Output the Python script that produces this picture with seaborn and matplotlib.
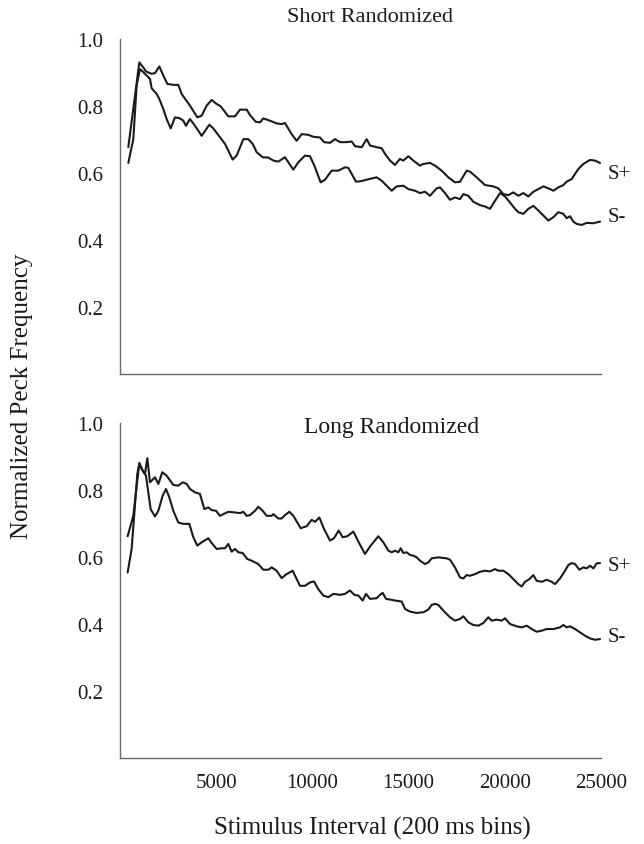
import matplotlib
matplotlib.use("Agg")
import matplotlib.pyplot as plt
import seaborn as sns
import pandas as pd

# ---------------- data ----------------
short_splus_x = [433, 1005, 1213, 1351, 1646, 1819, 2045, 2252, 2460, 2772, 3032, 3205, 3639, 4020,
                 4245, 4505, 4765, 5025, 5233, 5632, 5978, 6238, 6585, 6757, 7051, 7278, 7451, 7797,
                 8144, 8403, 8576, 8923, 9183, 9443, 9790, 10050, 10396, 10604, 10916, 11175, 11436,
                 11783, 12043, 12216, 12563, 12822,
                 12995, 13341, 13601, 13775, 14035, 14294, 14554, 14727, 14988, 15247, 15594, 15767,
                 16113, 16373, 16720, 17067, 17413, 17673, 18020, 18193, 18539, 18973, 19406, 19666,
                 19926, 20186, 20445, 20705, 20965, 21225, 21485, 21745, 22005, 22351, 22524, 22784,
                 23044, 23217, 23477, 23651, 23824, 24084, 24431, 24690, 24950]
short_splus_y = [0.677, 0.930, 0.915, 0.903, 0.896, 0.898, 0.918, 0.891, 0.866, 0.863, 0.863, 0.836,
                 0.801, 0.766, 0.771, 0.801, 0.818, 0.806, 0.799, 0.769, 0.769, 0.789, 0.789, 0.773,
                 0.753, 0.751, 0.763, 0.756, 0.748, 0.746, 0.749, 0.716, 0.696, 0.716, 0.714, 0.708,
                 0.706, 0.692, 0.690, 0.701, 0.692, 0.692, 0.694, 0.680, 0.677, 0.701,
                 0.682, 0.677, 0.674, 0.657, 0.637, 0.624, 0.642, 0.637, 0.650, 0.637, 0.622, 0.627,
                 0.630, 0.622, 0.607, 0.587, 0.572, 0.574, 0.607, 0.604, 0.587, 0.564, 0.560, 0.554,
                 0.537, 0.534, 0.542, 0.532, 0.540, 0.530, 0.544, 0.552, 0.560, 0.552, 0.547, 0.557,
                 0.564, 0.574, 0.582, 0.597, 0.612, 0.627, 0.639, 0.637, 0.630]

short_sminus_x = [433, 693, 866, 1040, 1178, 1386, 1559, 1646, 1906, 2045, 2252, 2426, 2634, 2859,
                  3119, 3292, 3431, 3639, 3899, 4245, 4644, 4852, 5112, 5458, 5857, 6064, 6411, 6671,
                  6896, 7104, 7416, 7711, 7971, 8231, 8576, 8750, 9010, 9270, 9617, 9876, 10102,
                  10431, 10656, 11002, 11349, 11696, 11869, 12268, 12563, 12822,
                  13341, 13601, 13948, 14121, 14381, 14727, 14988, 15334, 15594, 15854, 16113,
                  16460, 16633, 16893, 17153, 17413, 17673, 17846, 18106, 18366, 18713, 18973,
                  19233, 19493, 19753, 20012, 20272, 20532, 20705, 20965, 21225, 21485, 21745,
                  22005, 22265, 22524, 22784, 23044, 23217, 23391, 23564, 23737, 23997, 24257,
                  24604, 24950]
short_sminus_y = [0.630, 0.701, 0.861, 0.910, 0.903, 0.891, 0.881, 0.853, 0.836, 0.821, 0.791, 0.761,
                  0.733, 0.766, 0.763, 0.756, 0.741, 0.761, 0.741, 0.711, 0.744, 0.733, 0.713, 0.687,
                  0.640, 0.652, 0.701, 0.701, 0.687, 0.662, 0.647, 0.646, 0.637, 0.634, 0.647, 0.632,
                  0.610, 0.632, 0.652, 0.650, 0.622, 0.572, 0.580, 0.607, 0.607, 0.617, 0.615, 0.574,
                  0.576, 0.580,
                  0.587, 0.577, 0.557, 0.547, 0.560, 0.562, 0.552, 0.547, 0.540, 0.544, 0.532,
                  0.554, 0.557, 0.540, 0.520, 0.527, 0.522, 0.537, 0.532, 0.514, 0.504, 0.500,
                  0.493, 0.517, 0.540, 0.530, 0.512, 0.493, 0.483, 0.478, 0.493, 0.502, 0.488,
                  0.473, 0.458, 0.468, 0.483, 0.478, 0.465, 0.471, 0.455, 0.448, 0.445, 0.451,
                  0.450, 0.455]

long_splus_x = [398, 693, 1005, 1178, 1300, 1421, 1559, 1819, 1993, 2200, 2426, 2772, 3032, 3258,
                3465, 3639, 3899, 4072, 4158, 4384, 4592, 4765, 4990, 5198, 5371, 5631, 5978, 6238,
                6411, 6584, 6757, 7017, 7190, 7416, 7624, 7884, 7971, 8230, 8403, 8577, 8802, 9010,
                9391, 9703, 9963, 10136, 10361, 10604, 10916, 11124, 11366, 11574, 11817, 12129,
                12389, 12735, 13030,
                13428, 13688, 13948, 14121, 14294, 14468, 14589, 14727, 14901, 15074, 15247, 15421,
                15594, 15854, 16027, 16200, 16547, 16980, 17153, 17413, 17673, 17846, 18020, 18193,
                18453, 18713, 18973, 19233, 19493, 19666, 19926, 20186, 20445, 20705, 20879, 21052,
                21277, 21485, 21658, 21918, 22178, 22438, 22611, 22871, 23131, 23304, 23477, 23651,
                23876, 24084, 24257, 24431, 24604, 24777, 24950]
long_splus_y = [0.662, 0.723, 0.881, 0.858, 0.848, 0.895, 0.823, 0.838, 0.818, 0.853, 0.843, 0.815,
                0.813, 0.823, 0.818, 0.803, 0.793, 0.790, 0.788, 0.743, 0.748, 0.740, 0.738, 0.723,
                0.728, 0.735, 0.733, 0.731, 0.735, 0.723, 0.725, 0.738, 0.750, 0.738, 0.723, 0.723,
                0.728, 0.715, 0.715, 0.725, 0.735, 0.723, 0.686, 0.692, 0.711, 0.705, 0.718, 0.684,
                0.649, 0.656, 0.679, 0.659, 0.662, 0.676, 0.646, 0.609, 0.634,
                0.662, 0.644, 0.619, 0.614, 0.619, 0.614, 0.626, 0.612, 0.614, 0.606, 0.604, 0.599,
                0.589, 0.579, 0.584, 0.596, 0.599, 0.596, 0.592, 0.569, 0.539, 0.536, 0.546, 0.544,
                0.549, 0.556, 0.559, 0.557, 0.564, 0.559, 0.559, 0.549, 0.534, 0.519, 0.512, 0.526,
                0.534, 0.546, 0.529, 0.526, 0.532, 0.526, 0.519, 0.536, 0.559, 0.576, 0.582, 0.579,
                0.562, 0.569, 0.566, 0.574, 0.566, 0.581, 0.582]

long_sminus_x = [398, 606, 901, 1005, 1126, 1351, 1594, 1819, 1993, 2218, 2391, 2564, 2772, 3032,
                 3292, 3604, 3812, 4020, 4245, 4592, 4765, 5025, 5285, 5458, 5631, 5804, 5978, 6151,
                 6376, 6619, 6844, 7190, 7450, 7711, 7884, 8143, 8403, 8663, 8975, 9356, 9616, 9876,
                 10084, 10309, 10569, 10829, 11089, 11436, 11696, 11955, 12181, 12389, 12614, 12787,
                 12995,
                 13341, 13515, 13653, 13826, 14035, 14294, 14641, 14814, 15074, 15421, 15767, 16027,
                 16200, 16373, 16547, 16807, 17153, 17413, 17673, 17846, 18106, 18366, 18626, 18886,
                 19146, 19319, 19579, 19839, 20012, 20272, 20619, 20879, 21139, 21398, 21658, 21918,
                 22178, 22524, 22871, 23044, 23217, 23391, 23651, 23911, 24171, 24431, 24690, 24950]
long_sminus_y = [0.554, 0.624, 0.848, 0.878, 0.863, 0.843, 0.743, 0.721, 0.738, 0.783, 0.803, 0.778,
                 0.738, 0.703, 0.699, 0.699, 0.659, 0.634, 0.644, 0.656, 0.642, 0.624, 0.626, 0.626,
                 0.639, 0.616, 0.624, 0.614, 0.612, 0.594, 0.589, 0.579, 0.562, 0.562, 0.569, 0.559,
                 0.537, 0.549, 0.559, 0.514, 0.514, 0.524, 0.527, 0.504, 0.485, 0.480, 0.490, 0.487,
                 0.490, 0.500, 0.487, 0.485, 0.470, 0.490, 0.475,
                 0.477, 0.487, 0.493, 0.475, 0.473, 0.470, 0.467, 0.445, 0.437, 0.433, 0.435, 0.443,
                 0.457, 0.460, 0.457, 0.440, 0.420, 0.410, 0.415, 0.423, 0.405, 0.397, 0.395, 0.403,
                 0.420, 0.410, 0.413, 0.410, 0.417, 0.400, 0.393, 0.390, 0.395, 0.385, 0.377, 0.380,
                 0.385, 0.385, 0.390, 0.397, 0.390, 0.393, 0.385, 0.375, 0.365, 0.357, 0.353, 0.355]

panel_titles = ["Short Randomized", "Long Randomized"]
series_labels = ["S+", "S-"]
label_y = {"Short Randomized": [0.597, 0.469], "Long Randomized": [0.576, 0.364]}
y_ticks = [0.2, 0.4, 0.6, 0.8, 1.0]
x_ticks = [5000, 10000, 15000, 20000, 25000]

# ---------------- style ----------------
sns.set_style("white")
plt.rcParams["font.family"] = ["Liberation Serif", "DejaVu Serif"]

fig = plt.figure(figsize=(6.44, 8.45), dpi=100)
ax1 = fig.add_axes([0.1863, 0.5562, 0.7469, 0.3965])
ax2 = fig.add_axes([0.1863, 0.1018, 0.7469, 0.3964])

panels = [
    (ax1, short_splus_x, short_splus_y, short_sminus_x, short_sminus_y, panel_titles[0]),
    (ax2, long_splus_x, long_splus_y, long_sminus_x, long_sminus_y, panel_titles[1]),
]

spine_col = "#6a6a6a"
for ax, px, py, mx, my, title in panels:
    dfp = pd.DataFrame({"x": px, "y": py})
    dfm = pd.DataFrame({"x": mx, "y": my})
    sns.lineplot(data=dfp, x="x", y="y", ax=ax, color="#1a1a1a", lw=1.5,
                 estimator=None, sort=False)
    sns.lineplot(data=dfm, x="x", y="y", ax=ax, color="#1a1a1a", lw=1.5,
                 estimator=None, sort=False)
    ax.set_xlim(0, 25000)
    ax.set_ylim(0, 1.0)
    ax.set_xticks(x_ticks)
    ax.set_yticks(y_ticks)
    ax.set_yticklabels([f"{v:.1f}" for v in y_ticks])
    ax.set_xticklabels([str(v) for v in x_ticks])
    ax.set_xlabel("")
    ax.set_ylabel("")
    for s in ["top", "right"]:
        ax.spines[s].set_visible(False)
    for s in ["left", "bottom"]:
        ax.spines[s].set_color(spine_col)
        ax.spines[s].set_linewidth(1.0)
    ax.tick_params(axis="both", direction="out", length=5, width=1.0, color=spine_col,
                   labelsize=15, labelcolor="#1a1a1a")
    ax.tick_params(axis="y", pad=7)
    ax.tick_params(axis="x", pad=6)
    for lab, yv in zip(series_labels, label_y[title]):
        ax.text(25350, yv, lab, ha="left", va="center", fontsize=15, color="#1a1a1a",
                clip_on=False)

ax1.tick_params(axis="x", labelbottom=False)

fig.text(370 / 644, 1 - 18 / 845, panel_titles[0], ha="center", va="center", fontsize=16,
         color="#1a1a1a")
fig.text(392 / 644, 1 - 428 / 845, panel_titles[1], ha="center", va="center", fontsize=17,
         color="#1a1a1a")
fig.text(22 / 644, 1 - 396 / 845, "Normalized Peck Frequency", rotation=90, ha="center",
         va="center", fontsize=18, color="#1a1a1a")
fig.text(372 / 644, 1 - 828 / 845, "Stimulus Interval (200 ms bins)", ha="center",
         va="center", fontsize=18, color="#1a1a1a")

fig.savefig("out.png", dpi=100)
